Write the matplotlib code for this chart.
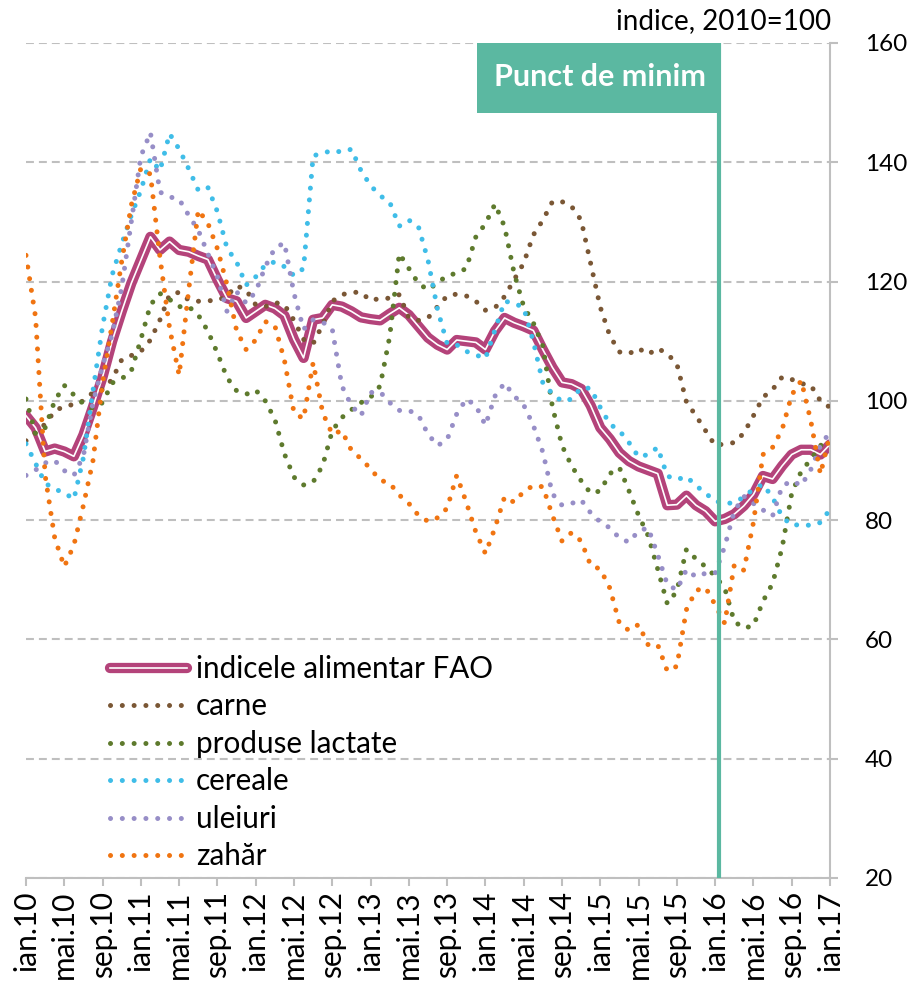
import matplotlib
matplotlib.use('Agg')
import matplotlib.pyplot as plt
from matplotlib.lines import Line2D
from matplotlib.patches import Rectangle

plt.rcParams['font.family'] = ['Lato', 'DejaVu Sans']

# monthly values, ian.2010 .. ian.2017 (indice, 2010=100)
fao = [97.5, 95.5, 91.5, 92.0, 91.5, 90.7, 94.3, 99.0, 104.0, 110.0,
       115.0, 119.7, 123.6, 127.5, 125.3, 126.7, 125.3, 125.0, 124.3, 123.7,
       120.3, 117.2, 116.7, 113.9, 115.0, 116.1, 115.5, 114.3, 110.3, 107.2,
       113.6, 113.9, 116.1, 115.8, 115.0, 114.0, 113.7, 113.5, 114.6, 115.6,
       114.4, 112.5, 110.6, 109.4, 108.6, 110.2, 110.0, 109.8, 108.6, 111.7,
       113.9, 113.1, 112.5, 111.8, 108.6, 105.6, 103.1, 102.8, 102.0, 99.2,
       95.5, 93.6, 91.3, 89.9, 89.0, 88.4, 87.8, 82.5, 82.6, 84.1,
       82.5, 81.5, 79.8, 80.2, 81.0, 82.4, 84.3, 87.4, 86.9, 89.1,
       91.0, 91.8, 91.8, 91.0, 92.7]

carne = [93.3, 94.7, 96.1, 98.3, 99.1, 99.4, 100.0, 101.4, 101.9, 103.6,
         106.9, 107.6, 108.3, 110.2, 113.6, 117.8, 118.2, 116.9, 116.7, 116.8,
         116.8, 117.6, 119.3, 118.6, 116.1, 115.8, 116.5, 116.1, 113.5, 110.3,
         109.6, 112.8, 116.7, 117.8, 118.2, 118.2, 116.8, 117.2, 117.2, 117.8,
         113.9, 113.5, 113.9, 115.8, 117.6, 117.9, 117.6, 116.7, 115.2, 115.6,
         117.5, 120.3, 123.1, 127.8, 130.3, 133.4, 133.4, 132.6, 130.3, 123.0,
         115.7, 110.9, 108.2, 107.9, 108.8, 107.8, 108.8, 107.9, 106.2, 99.8,
         97.5, 95.0, 92.5, 92.8, 93.0, 94.6, 97.5, 100.6, 101.9, 104.0,
         103.6, 102.9, 102.6, 100.0, 98.9]

lactate = [100.3, 94.5, 95.5, 100.0, 102.6, 101.0, 99.5, 98.7, 99.7, 103.0,
           103.7, 105.0, 110.3, 116.1, 118.0, 117.0, 115.8, 115.8, 114.4, 111.7,
           108.0, 103.9, 101.7, 101.1, 101.8, 100.0, 96.9, 91.1, 87.2, 85.9,
           86.4, 89.2, 95.0, 97.2, 98.5, 99.7, 100.6, 102.5, 110.8, 124.7,
           122.2, 119.7, 118.6, 119.8, 121.0, 121.4, 122.2, 127.5, 129.7, 133.0,
           129.2, 121.4, 115.8, 113.1, 109.2, 99.0, 92.5, 89.1, 86.6, 84.5,
           84.9, 87.8, 88.8, 84.9, 80.8, 77.4, 71.8, 66.0, 68.1, 75.1,
           73.5, 72.2, 70.6, 68.6, 63.0, 61.9, 62.3, 66.4, 69.4, 75.4,
           84.5, 88.2, 90.2, 92.5, 93.6]

cereale = [92.8, 89.5, 86.2, 85.2, 84.6, 83.5, 90.5, 101.7, 112.5, 121.1,
           126.3, 131.1, 135.3, 140.6, 138.6, 144.8, 142.2, 138.9, 135.3, 135.8,
           131.7, 125.6, 123.3, 119.4, 120.8, 122.8, 123.3, 122.5, 121.0, 122.2,
           141.1, 141.5, 142.0, 141.7, 142.2, 138.6, 136.1, 134.4, 133.3, 129.3,
           130.3, 129.2, 123.6, 115.3, 109.6, 109.4, 108.3, 107.7, 107.1, 111.9,
           116.7, 116.4, 115.6, 110.0, 103.0, 101.2, 99.9, 100.3, 102.2, 102.1,
           98.9, 96.1, 95.0, 93.0, 90.6, 91.0, 92.2, 87.4, 86.8, 87.3,
           85.8, 84.5, 83.2, 82.8, 82.9, 83.9, 85.2, 86.0, 83.8, 80.6,
           79.1, 79.3, 79.1, 79.6, 81.8]

uleiuri = [87.5, 88.4, 89.6, 90.0, 88.3, 87.5, 90.8, 99.7, 105.9, 111.1,
           119.0, 130.0, 141.0, 145.0, 135.0, 134.2, 133.8, 131.1, 128.6, 124.7,
           120.8, 115.0, 118.3, 116.4, 118.3, 122.5, 125.6, 126.5, 118.0, 112.0,
           113.6, 113.2, 112.0, 102.5, 99.2, 97.5, 101.4, 101.5, 99.7, 98.4,
           98.4, 97.6, 94.4, 92.5, 93.5, 97.8, 100.3, 99.2, 95.9, 100.8,
           103.0, 100.8, 99.3, 95.9, 91.4, 84.4, 82.5, 82.8, 83.4, 81.2,
           79.7, 78.7, 77.0, 76.3, 78.2, 78.7, 74.2, 69.2, 68.3, 71.7,
           70.5, 71.1, 71.1, 75.6, 81.5, 84.0, 82.8, 81.7, 80.7, 85.7,
           86.6, 85.8, 88.5, 92.5, 94.8]

zahar = [124.4, 114.0, 87.5, 77.0, 72.2, 75.8, 82.5, 90.0, 103.0, 112.9,
         123.4, 132.8, 139.0, 138.0, 124.0, 112.2, 104.3, 118.6, 132.0, 129.8,
         125.5, 119.5, 111.8, 108.6, 110.2, 113.3, 112.6, 106.8, 98.0, 97.0,
         106.4, 98.0, 94.4, 95.0, 91.7, 90.3, 88.6, 86.7, 86.2, 84.2,
         82.8, 80.8, 79.8, 80.4, 82.0, 87.5, 83.0, 78.0, 74.4, 78.7,
         83.9, 83.0, 84.8, 85.8, 85.6, 80.8, 76.5, 77.9, 76.5, 72.4,
         71.8, 68.6, 62.7, 61.5, 62.5, 59.1, 59.1, 54.7, 55.5, 65.0,
         68.2, 68.7, 65.8, 62.7, 72.5, 71.6, 79.6, 91.0, 92.2, 95.2,
         101.0, 103.4, 96.6, 87.7, 94.4]

series_names = ['carne', 'produse lactate', 'cereale', 'uleiuri', 'zahăr']
series_colors = ['#7A5735', '#5E7A2D', '#3FBDE8', '#978EC7', '#F07411']
fao_label = 'indicele alimentar FAO'

month_abbr = ['ian', 'mai', 'sep']
years = ['10', '11', '12', '13', '14', '15', '16', '17']
tick_labels = [f'{m}.{y}' for y in years for m in month_abbr][:22]

min_month = 72  # ian.16
box_text = 'Punct de minim'
unit_text = 'indice, 2010=100'

magenta = '#B4437A'
teal = '#5BB8A1'
gray = '#BFBFBF'

months = list(range(len(fao)))

fig = plt.figure(figsize=(9.14, 9.91), dpi=100)
ax = fig.add_axes([26 / 914, 113 / 991, 804 / 914, 835 / 991])

ax.set_xlim(0, len(fao) - 1)
ax.set_ylim(20, 160)

# gridlines
ax.set_axisbelow(True)
ax.yaxis.grid(True, color=gray, lw=1.5, linestyle=(0, (3.8, 2.4)))

# FAO compound line (drawn first, others on top)
ax.plot(months, fao, color=magenta, lw=7.4, solid_joinstyle='round',
        solid_capstyle='round', zorder=2)
ax.plot(months, fao, color='white', lw=1.2, solid_joinstyle='round', zorder=2.1)

dot_style = dict(lw=3.6, linestyle=(0, (0.01, 2.35)), dash_capstyle='round')
series = [carne, lactate, cereale, uleiuri, zahar]
handles = []
for vals, name, col in zip(series, series_names, series_colors):
    line, = ax.plot(months, vals, color=col, zorder=3, **dot_style)
    handles.append(line)

# minimum marker: vertical line + label box
ax.axvline(min_month + 0.37, color=teal, lw=3, zorder=4)
ax.add_patch(Rectangle((47.1, 148.3), 25.5, 11.7, facecolor=teal,
                       edgecolor='none', zorder=4, clip_on=False))
ax.text(60.0, 154.3, box_text, color='white', fontsize=22, fontweight='bold',
        ha='center', va='center', zorder=5)

ax.text(1.002, 1.0 + 22 / 835, unit_text, transform=ax.transAxes,
        ha='right', va='center', fontsize=20)

# axes styling
for side in ['left', 'top']:
    ax.spines[side].set_visible(False)
for side in ['bottom', 'right']:
    ax.spines[side].set_color(gray)
    ax.spines[side].set_linewidth(1.5)

ax.yaxis.tick_right()
ax.set_yticks(range(20, 161, 20))
ax.tick_params(axis='y', length=6, width=1.5, color=gray, labelsize=17.5, pad=19)
ax.set_xticks(range(0, len(fao), 4))
ax.set_xticklabels(tick_labels, rotation=90, va='top', ha='center')
ax.tick_params(axis='x', length=6, width=1.5, color=gray, labelsize=21.5, pad=3)

# legend
fao_handle = (Line2D([], [], color=magenta, lw=7.4, solid_capstyle='round'),
              Line2D([], [], color='white', lw=1.2))
leg = ax.legend([fao_handle] + handles, [fao_label] + series_names,
                loc='upper left', bbox_to_anchor=(110 / 914, 1 - 655 / 991),
                bbox_transform=fig.transFigure, frameon=False, fontsize=21.3,
                handlelength=2.6, handletextpad=0.3, labelspacing=0.32,
                borderpad=0, borderaxespad=0)

fig.savefig('out.png', dpi=100)
